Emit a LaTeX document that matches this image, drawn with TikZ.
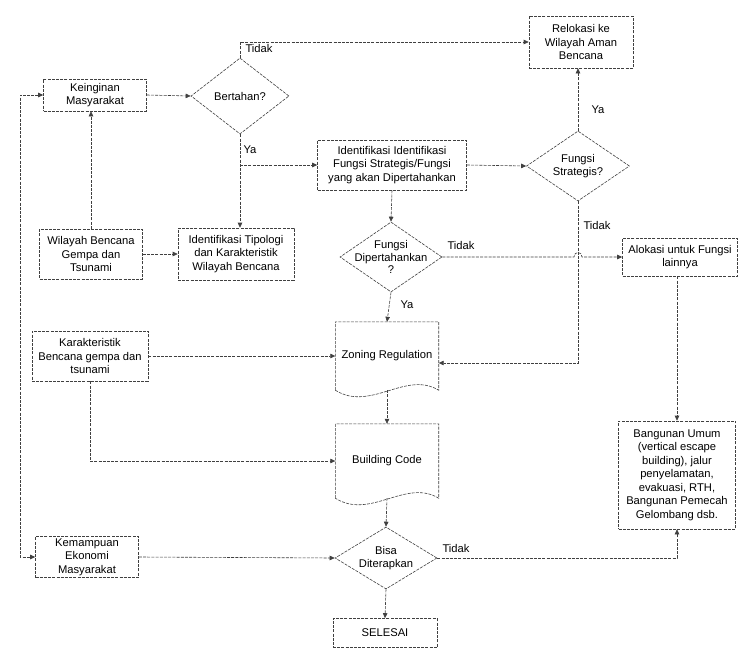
\documentclass[tikz,border=0pt]{standalone}
\usepackage{fontspec}
\setmainfont{Liberation Sans}
\usetikzlibrary{arrows.meta,shapes.geometric,calc}
\begin{document}
\begin{tikzpicture}[x=1pt,y=-1pt,
  font=\fontsize{11.2}{13.5}\selectfont,
  ln/.style={draw=black!75, line width=0.6pt, dash pattern=on 3pt off 1.2pt},
  box/.style={ln, rectangle, align=center, inner sep=0pt},
  dia/.style={ln, diamond, inner sep=0pt},
  txt/.style={align=center, inner sep=0pt},
  tip/.style={-{Triangle[length=5pt,width=4.5pt]}},
  arr/.style={ln, tip},
  lbl/.style={inner sep=0pt}]
\useasboundingbox (0,0) rectangle (753,667);
\fill[white] (0,0) rectangle (753,667);

% boxes
\node[box, minimum width=103pt, minimum height=32pt] (kein) at (95,95) {Keinginan\\Masyarakat};
\node[box, minimum width=104pt, minimum height=52pt] (relo) at (581,42) {Relokasi ke\\Wilayah Aman\\Bencana};
\node[box, minimum width=103pt, minimum height=50pt] (wil) at (91,254) {Wilayah Bencana\\Gempa dan\\Tsunami};
\node[box, minimum width=116pt, minimum height=52pt] (tipo) at (236,254) {Identifikasi Tipologi\\dan Karakteristik\\Wilayah Bencana};
\node[box, minimum width=149pt, minimum height=50pt] (ide) at (392,165) {Identifikasi Identifikasi\\Fungsi Strategis/Fungsi\\yang akan Dipertahankan};
\node[box, minimum width=115pt, minimum height=38pt] (alo) at (680,257) {Alokasi untuk Fungsi\\lainnya};
\node[box, minimum width=116pt, minimum height=50pt] (kar) at (90,356) {Karakteristik\\Bencana gempa dan\\tsunami};
\node[box, minimum width=103pt, minimum height=41pt] (kem) at (87,557) {Kemampuan\\Ekonomi\\Masyarakat};
\node[box, minimum width=117pt, minimum height=108pt] (ban) at (677,475) {Bangunan Umum\\(vertical escape\\building), jalur\\penyelamatan,\\evakuasi, RTH,\\Bangunan Pemecah\\Gelombang dsb.};
\node[box, minimum width=104pt, minimum height=29pt] (sel) at (385,633) {SELESAI};

% diamonds
\node[dia, minimum width=98pt, minimum height=76pt] (bt) at (240,96) {};
\node[txt] (btt) at (bt) {Bertahan?};
\node[dia, minimum width=103pt, minimum height=70pt] (fs) at (578,166) {};
\node[txt] (fst) at (fs) {Fungsi\\Strategis?};
\node[dia, minimum width=102pt, minimum height=70pt] (dip) at (391,257) {};
\node[txt, font=\fontsize{11.2}{12.5}\selectfont] (dipt) at (dip) {Fungsi\\Dipertahankan\\?};
\node[dia, minimum width=102pt, minimum height=62pt] (bisa) at (386,558) {};
\node[txt] (bisat) at (bisa) {Bisa\\Diterapkan};

% documents
\node[txt, minimum width=103pt, minimum height=68pt] (zon) at (387,356) {Zoning Regulation};
\draw[ln] (zon.south west) -- (zon.north west) -- (zon.north east) -- (zon.south east)
  .. controls ($(zon.south east)+(-33,-20)$) and ($(zon.south west)+(35,22)$) .. (zon.south west);
\node[txt, minimum width=103pt, minimum height=74pt] (bc) at (387,461) {Building Code};
\draw[ln] (bc.south west) -- (bc.north west) -- (bc.north east) -- (bc.south east)
  .. controls ($(bc.south east)+(-33,-20)$) and ($(bc.south west)+(35,22)$) .. (bc.south west);

% helper coordinates
\coordinate (lx) at (20,0);
\coordinate (c1) at (0,363);
\coordinate (ya1) at (bt.south |- ide.west);

% connectors
\draw[arr] (kein.east) -- (bt.west);
\draw[arr] (bt.north) |- (relo.west);
\node[lbl] (l1) at (259,48) {Tidak};
\draw[arr] (bt.south) -- (bt.south |- tipo.north);
\draw[arr] (ya1) -- (ide.west);
\node[lbl] (l2) at (250,150) {Ya};
\draw[arr] (ide.east) -- (fs.west);
\draw[arr] (fs.north) -- (fs.north |- relo.south);
\node[lbl] (l3) at (598,110) {Ya};
\draw[arr] (fs.south) -- (fs.south |- c1) -- (zon.east |- c1);
\node[lbl] (l4) at (597,225) {Tidak};
\draw[arr] (ide.south) -- (dip.north);
\draw[arr] (dip.east) -- (574,257) .. controls (574,251) and (582,251) .. (582,257) -- (alo.west);
\node[lbl] (l5) at (461,245) {Tidak};
\draw[arr] (dip.south) -- (zon.north);
\node[lbl] (l6) at (407,305) {Ya};
\draw[arr] (wil.north) -- (wil.north |- kein.south);
\draw[arr] (wil.east) -- (tipo.west);
\draw[arr] (kar.east) -- (zon.west);
\draw[arr] (kar.south) |- (bc.west);
\draw[arr] (zon.south) -- (bc.north);
\draw[arr] (bc.south) -- (bisa.north);
\draw[arr] (kem.east) -- (bisa.west);
\draw[arr] (bisa.south) -- (sel.north);
\draw[arr] (bisa.east) -| (ban.south);
\node[lbl] (l7) at (456,548) {Tidak};
\draw[arr] (ban.north |- alo.south) -- (ban.north);
\draw[ln, {Triangle[length=5pt,width=4.5pt]}-{Triangle[length=5pt,width=4.5pt]}]
  (kein.west) -- (kein.west -| lx) -- (kem.west -| lx) -- (kem.west);
\end{tikzpicture}
\end{document}
